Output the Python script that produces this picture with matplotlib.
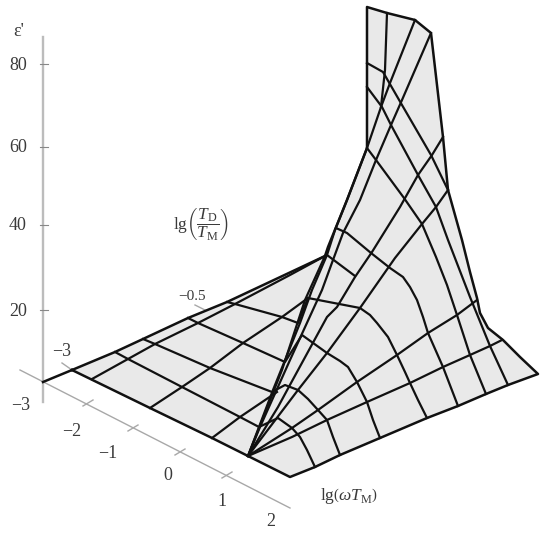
"""Dielectric surface, redrawn from a scan as a flat projected mesh."""

import matplotlib
matplotlib.use("Agg")
import matplotlib.pyplot as plt
from matplotlib.patches import Polygon

plt.rcParams["font.family"] = ["Liberation Serif", "DejaVu Serif"]
plt.rcParams["mathtext.fontset"] = "custom"
plt.rcParams["mathtext.rm"] = "Liberation Serif"
plt.rcParams["mathtext.it"] = "Liberation Serif:italic"

# surface, in projected (pixel) coordinates
OUTLINE_X = [72, 150, 212, 248, 290, 315, 340, 380, 427, 458, 486, 508, 538, 520, 503, 488, 480, 477, 470, 462, 448,
             443, 431, 415, 387, 367, 367, 347, 328, 325, 227, 188, 143, 115]
OUTLINE_Y = [370, 408, 438, 456, 477, 467, 455, 438, 418, 406, 394, 385, 374, 357, 340, 328, 313, 298, 272, 240, 190,
             137, 33, 20, 13, 7, 148, 200, 247, 256, 302, 318, 339, 352]

# lines running out of the pinch point
FAN_A = ([325, 305, 282, 248], [256, 300, 370, 456])
FAN_B = ([387, 385, 381], [13, 70, 107])
FAN_C = ([415, 390, 381, 367, 347, 335, 327, 312, 300, 273, 248], [20, 83, 107, 148, 200, 230, 255, 290, 323, 390, 456])
FAN_D = ([431, 402, 391, 376, 360, 343, 333, 322, 290, 260, 248], [33, 100, 125, 160, 200, 233, 260, 290, 360, 427, 456])
FAN_E = ([448, 436, 422, 395, 360, 327, 298, 248], [190, 207, 224, 258, 308, 353, 390, 456])
FAN_F = ([443, 432, 418, 400, 372, 355, 337, 327, 291, 278, 248], [137, 155, 175, 207, 252, 277, 307, 317, 383, 407, 456])
FAN_I = ([248, 292, 318, 357, 397, 428, 457, 477], [456, 428, 410, 382, 355, 333, 315, 300])
FAN_J = ([248, 292, 327, 367, 410, 443, 470, 490, 502], [456, 437, 420, 402, 383, 367, 355, 346, 340])

# cross lines, from the back edge over the ridge to the front edge
CROSS_1 = ([115, 128, 182, 240, 259, 278, 292, 300, 307, 315], [352, 359, 387, 417, 427, 418, 428, 437, 450, 467])
CROSS_2 = ([143, 155, 210, 272, 285, 298, 308, 318, 327, 333, 340], [339, 344, 368, 392, 385, 390, 399, 410, 420, 437, 455])
CROSS_3 = ([188, 198, 243, 285, 302, 327, 340, 348, 357, 367, 373, 380],
           [318, 323, 343, 362, 335, 353, 361, 367, 382, 402, 420, 438])
CROSS_4 = ([227, 235, 282, 298, 308, 360, 370, 377, 388, 397, 405, 410, 418, 427],
           [302, 304, 317, 323, 298, 308, 315, 323, 337, 355, 372, 383, 400, 418])
CROSS_5 = ([327, 355], [255, 276])
CROSS_6 = ([336, 347, 371, 390, 403, 410, 417, 423, 428, 443, 458],
           [228, 233, 253, 268, 277, 287, 300, 317, 333, 367, 406])
CROSS_7 = ([367, 376, 404, 422, 436, 447, 457, 470, 486], [148, 160, 198, 224, 257, 285, 315, 355, 394])
CROSS_8 = ([367, 382, 391, 418, 436, 448, 470, 490, 508], [87, 107, 125, 175, 207, 240, 297, 346, 385])
CROSS_9 = ([367, 383, 402, 431, 448], [63, 72, 105, 155, 190])

# lines of the flat left part, rising from the front edge
RISE_1 = ([92, 128, 155, 198, 235, 290, 325], [379, 359, 344, 323, 304, 275, 256])
RISE_2 = ([150, 182, 210, 243, 282, 308], [408, 387, 368, 343, 317, 298])
RISE_3 = ([212, 240, 277], [438, 417, 392])

# axes
Z_TICKS = [80, 60, 40, 20]
Z_TICK_Y = [64, 147, 225, 310]
W_TICK_LABELS = ["−3", "−2", "−1", "0", "1", "2"]
W_TICK_LABEL_X = [21, 72, 108, 168, 222, 271]
W_TICK_LABEL_Y = [405, 432, 454, 476, 501, 522]
W_TICK_X = [88, 133, 180, 227]
W_TICK_Y = [403, 428, 452, 475]

fig = plt.figure(figsize=(5.5, 5.36), dpi=100)
ax = fig.add_axes([0, 0, 1, 1])
ax.set_xlim(0, 550)
ax.set_ylim(536, 0)
ax.axis("off")

ax.add_patch(Polygon(list(zip(OUTLINE_X, OUTLINE_Y)), closed=True, fc="#e9e9e9", ec="none", zorder=1))

# gray axis lines and ticks
gray = "#a8a8a8"
ax.plot([43, 43], [37, 402], color="#bcbcbc", lw=1.7, zorder=2)
ax.plot([20, 290], [370, 508], color=gray, lw=1.0, zorder=2)
for y in Z_TICK_Y:
    ax.plot([40, 48], [y, y], color="#888888", lw=0.8, zorder=2)
for x, y in zip(W_TICK_X, W_TICK_Y):
    ax.plot([x - 5, x + 5], [y + 3, y - 3], color=gray, lw=1.0, zorder=2)
ax.plot([62, 72], [363, 370], color=gray, lw=1.0, zorder=2)
ax.plot([195, 205], [305, 310], color=gray, lw=1.0, zorder=2)

# surface boundary, left corner stub included
line_c = "#111111"
ax.plot(OUTLINE_X + [OUTLINE_X[0]], OUTLINE_Y + [OUTLINE_Y[0]], color=line_c, lw=1.8,
        solid_joinstyle="round", zorder=4)
ax.plot([43, 72], [382, 370], color=line_c, lw=1.8, zorder=4)

for xs, ys in [FAN_A, FAN_B, FAN_C, FAN_D, FAN_E, FAN_F, FAN_I, FAN_J,
               CROSS_1, CROSS_2, CROSS_3, CROSS_4, CROSS_5, CROSS_6, CROSS_7, CROSS_8, CROSS_9,
               RISE_1, RISE_2, RISE_3]:
    ax.plot(xs, ys, color=line_c, lw=1.6, solid_joinstyle="round", zorder=3)

text_color = "#3a3a3a"
for val, y in zip(Z_TICKS, Z_TICK_Y):
    ax.text(18, y + 1, str(val), ha="center", va="center", fontsize=13, color=text_color)
for lab, x, y in zip(W_TICK_LABELS, W_TICK_LABEL_X, W_TICK_LABEL_Y):
    ax.text(x, y, lab, ha="center", va="center", fontsize=13, color=text_color)
ax.text(62, 351, "−3", ha="center", va="center", fontsize=13, color=text_color)
ax.text(192, 297, "−0.5", ha="center", va="center", fontsize=11, color=text_color)
ax.text(19, 32, "ε'", ha="center", va="center", fontsize=13, color=text_color)
ax.text(201, 225, r"lg$\left(\dfrac{\mathit{T}_{\mathrm{D}}}{\mathit{T}_{\mathrm{M}}}\right)$",
        ha="center", va="center", fontsize=12.5, color=text_color)
ax.text(349, 497, r"lg$\left(\omega\mathit{T}_{\mathrm{M}}\right)$",
        ha="center", va="center", fontsize=12.5, color=text_color)

fig.savefig("out.png", dpi=100)
